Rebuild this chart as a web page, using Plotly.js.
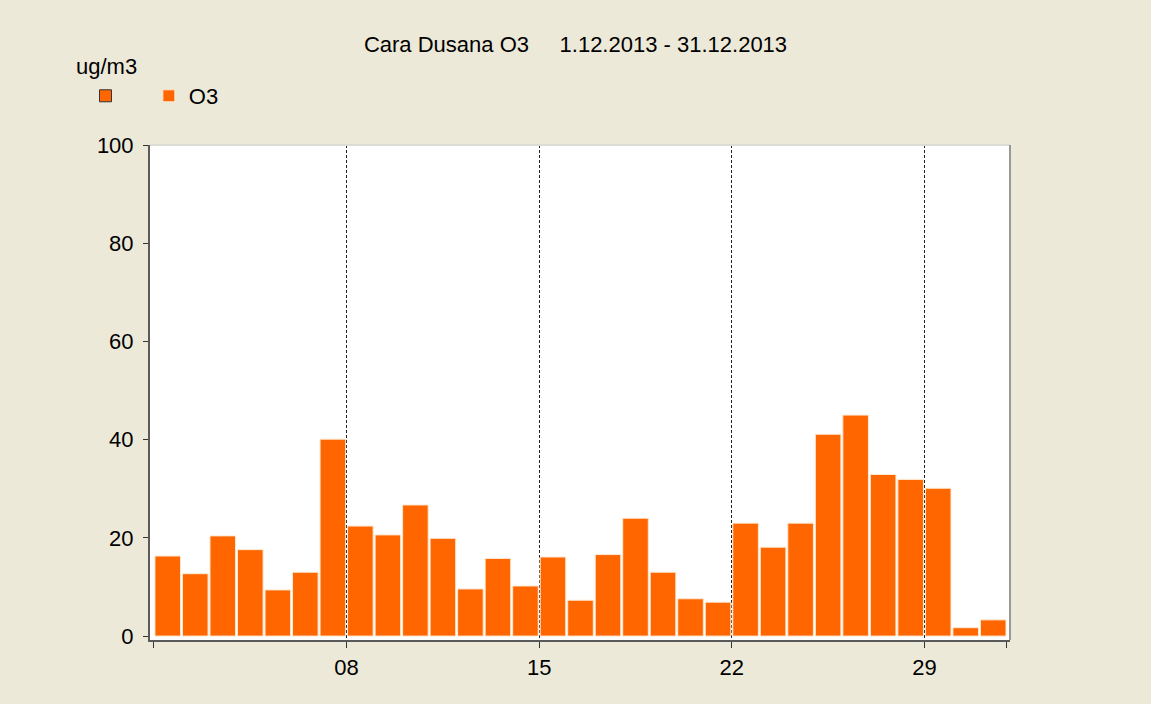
<!DOCTYPE html>
<html>
<head>
<meta charset="utf-8">
<script src="https://cdn.plot.ly/plotly-3.0.1.min.js"></script>
<style>html,body{margin:0;padding:0;background:#ECE9D8;}#chart{width:1151px;height:704px;}</style>
</head>
<body>
<div id="chart"></div>
<script>
// Daily O3 values, 1.12.2013 - 31.12.2013
const days = [1,2,3,4,5,6,7,8,9,10,11,12,13,14,15,16,17,18,19,20,21,22,23,24,25,26,27,28,29,30,31];
const o3 = [16.3,12.7,20.4,17.6,9.4,13.0,40.1,22.4,20.6,26.7,19.9,9.6,15.8,10.2,16.1,7.3,16.6,24.0,13.0,7.6,6.9,23.0,18.1,23.0,41.1,45.0,32.9,31.9,30.1,1.7,3.3];
const weekTickDays = [8,15,22,29];
const weekTickLabels = ["08","15","22","29"];
const yTicks = [0,20,40,60,80,100];
const titleText = "Cara Dusana O3\u00a0\u00a0\u00a0\u00a0\u00a01.12.2013 - 31.12.2013";
const unitText = "ug/m3";

// bar centred in the middle of each day: day d spans [d-1, d]
const xCenters = days.map(d => d - 0.5);
const gridPos = weekTickDays.map(d => d - 1);

const font = "Arial, 'Liberation Sans', sans-serif";

const traces = [
  {
    type: 'bar', x: [xCenters[0]], y: [null], name: '\u00a0\u00a0\u00a0',
    marker: {color: '#FF6600', line: {color: '#333333', width: 1}},
    showlegend: true, hoverinfo: 'skip'
  },
  {
    type: 'bar', x: xCenters, y: o3, name: 'O3',
    marker: {color: '#FF6600', line: {color: '#FBE9D2', width: 1}},
    showlegend: true
  }
];

const layout = {
  width: 1151, height: 704,
  paper_bgcolor: '#ECE9D8', plot_bgcolor: '#FFFFFF',
  margin: {l: 150, r: 141, t: 145, b: 64},
  barmode: 'overlay', bargap: 0.07, showlegend: true,
  font: {family: font, color: '#000000', size: 22},
  title: {text: titleText, x: 0.5, xanchor: 'center', y: 1 - 44/704, yanchor: 'middle',
          font: {family: font, size: 22, color: '#000000'}},
  xaxis: {
    range: [-0.145, 31.11], fixedrange: true,
    tickmode: 'array', tickvals: gridPos, ticktext: weekTickLabels,
    ticks: 'outside', ticklen: 6, tickwidth: 1, tickcolor: '#333333',
    showgrid: true, gridcolor: '#222222', gridwidth: 1, griddash: '3px,2px',
    showline: true, linecolor: '#5a5a5a', linewidth: 2,
    zeroline: false, tickfont: {size: 22}, ticklabelstandoff: 1,
    minor: {tickvals: [0, days.length], ticks: 'outside', ticklen: 6, tickcolor: '#333333', showgrid: false}
  },
  yaxis: {
    range: [-0.8, 100], fixedrange: true,
    tickmode: 'array', tickvals: yTicks,
    ticks: 'outside', ticklen: 5, tickwidth: 1, tickcolor: '#333333',
    showgrid: false, zeroline: false,
    showline: true, linecolor: '#5a5a5a', linewidth: 2,
    tickfont: {size: 22}, ticklabelstandoff: 5
  },
  legend: {
    orientation: 'h', x: -0.075, xanchor: 'left', y: 1.099, yanchor: 'middle',
    bgcolor: 'rgba(0,0,0,0)', font: {size: 22},
    traceorder: 'normal'
  },
  annotations: [
    {text: unitText, xref: 'paper', yref: 'paper', x: -0.088, y: 1.158, xanchor: 'left', yanchor: 'middle',
     showarrow: false, font: {size: 22}}
  ],
  shapes: [
    {type: 'line', xref: 'paper', yref: 'paper', x0: 0, x1: 1, y0: 1, y1: 1, line: {color: '#DCDCD4', width: 2}},
    {type: 'line', xref: 'paper', yref: 'paper', x0: 1, x1: 1, y0: 0, y1: 1, line: {color: '#9A9A92', width: 2}}
  ]
};

Plotly.newPlot('chart', traces, layout, {displayModeBar: false, staticPlot: true});
</script>
</body>
</html>
